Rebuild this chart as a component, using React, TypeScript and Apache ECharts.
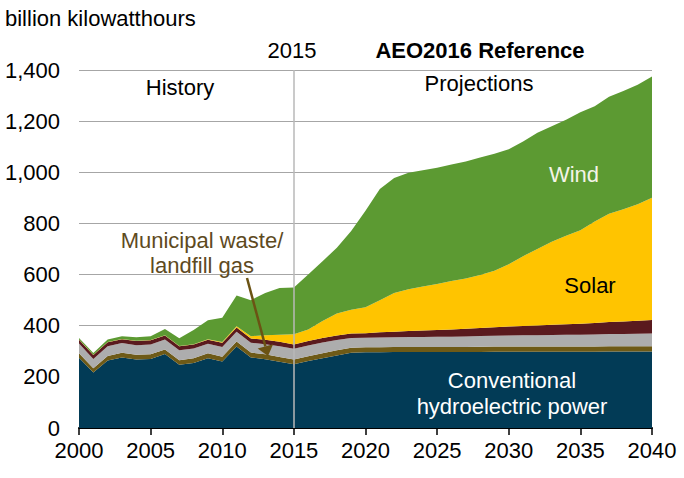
import React, { useEffect, useRef } from "react";
import * as echarts from "echarts";

const years: string[] = [];
for (let y = 2000; y <= 2040; y++) years.push(String(y));

const hydro = [
  275, 217, 264, 276, 268, 270, 289, 247, 254, 273, 260, 319, 276, 269, 259, 249,
  262, 273, 284, 294, 296, 296, 297, 297, 297, 297, 297, 297, 297, 298, 298, 298,
  298, 298, 298, 298, 298, 299, 299, 299, 299,
];
const msw = [
  17, 17, 18, 18, 18, 18, 18, 18, 19, 19, 19, 19, 19, 19, 19, 19,
  19, 19, 20, 20, 20, 20, 20, 20, 20, 20, 20, 20, 21, 21, 21, 21,
  21, 21, 21, 21, 21, 21, 21, 21, 21,
];
const wood = [
  38, 36, 38, 38, 38, 39, 39, 39, 38, 37, 38, 38, 38, 40, 42, 42,
  42, 42, 40, 38, 37, 38, 38, 39, 39, 40, 40, 41, 42, 42, 43, 44,
  44, 45, 46, 46, 47, 48, 48, 49, 50,
];
const geothermal = [
  15, 15, 15, 15, 16, 16, 16, 16, 16, 16, 16, 17, 17, 17, 17, 17,
  17, 18, 18, 18, 18, 20, 21, 23, 25, 26, 28, 30, 31, 33, 35, 36,
  38, 40, 41, 43, 45, 47, 48, 50, 52,
];
const solar = [
  1, 1, 1, 1, 1, 1, 1, 1, 1, 2, 3, 5, 9, 18, 28, 40,
  45, 66, 86, 92, 101, 126, 152, 164, 172, 180, 190, 197, 207, 221, 243, 273,
  299, 324, 346, 365, 397, 423, 439, 456, 478,
];
const wind = [
  6, 7, 10, 11, 14, 15, 24, 30, 55, 74, 95, 120, 141, 165, 182, 182,
  215, 234, 257, 308, 378, 435, 450, 455, 455, 455, 455, 457, 460, 457, 450, 448,
  455, 452, 453, 462, 450, 457, 463, 467, 475,
];

const FONT = "'Liberation Sans', Arial, sans-serif";
const FS = 22;

export default function App() {
  const ref = useRef<HTMLDivElement>(null);
  useEffect(() => {
    document.body.style.margin = "0";
    if (!ref.current) return;
    const chart = echarts.init(ref.current, undefined, { renderer: "svg" });
    const layer = (name: string, data: number[], color: string, extra: any = {}) => ({
      name,
      type: "line",
      stack: "total",
      data,
      symbol: "none",
      lineStyle: { width: 0 },
      areaStyle: { color, opacity: 1 },
      itemStyle: { color },
      silent: true,
      ...extra,
    });
    const txt = (text: string, x: number, y: number, fill: string, bold = false) => ({
      type: "text",
      x,
      y,
      style: {
        text,
        fill,
        font: `${bold ? "bold " : ""}${FS}px ${FONT}`,
        textAlign: "center",
        textVerticalAlign: "middle",
      },
      z: 100,
    });
    chart.setOption({
      animation: false,
      grid: { left: 79, right: 32, top: 70, bottom: 50, containLabel: false },
      xAxis: {
        type: "category",
        data: years,
        boundaryGap: false,
        axisLine: { lineStyle: { color: "#000", width: 2 } },
        axisTick: { interval: 4, length: 7, lineStyle: { color: "#000", width: 1.5 } },
        axisLabel: { interval: 4, color: "#000", fontSize: FS, fontFamily: FONT, margin: 11 },
        splitLine: { show: false },
      },
      yAxis: {
        type: "value",
        min: 0,
        max: 1400,
        interval: 200,
        axisLine: { show: false },
        axisTick: { show: false },
        axisLabel: {
          color: "#000",
          fontSize: FS,
          fontFamily: FONT,
          margin: 19,
          formatter: (v: number) => v.toLocaleString("en-US"),
        },
        splitLine: { lineStyle: { color: "#a6a6a6", width: 1 } },
      },
      series: [
        layer("Conventional hydroelectric power", hydro, "#023B56"),
        layer("Municipal waste/landfill gas", msw, "#6E5A17"),
        layer("Wood and other biomass", wood, "#ADADAD"),
        layer("Geothermal", geothermal, "#5A1A1E"),
        layer("Solar", solar, "#FFC400"),
        layer("Wind", wind, "#5C9A32", {
          markLine: {
            silent: true,
            symbol: "none",
            label: { show: false },
            lineStyle: { color: "#b8b8b8", width: 1.5, type: "solid" },
            data: [{ xAxis: "2015" }],
          },
        }),
      ],
      graphic: [
        {
          type: "text",
          x: 5,
          y: 18,
          style: {
            text: "billion kilowatthours",
            fill: "#000",
            font: `${FS}px ${FONT}`,
            textAlign: "left",
            textVerticalAlign: "middle",
          },
        },
        txt("2015", 292, 50, "#000"),
        txt("AEO2016 Reference", 480, 50, "#000", true),
        txt("History", 180, 87, "#000"),
        txt("Projections", 479, 83, "#000"),
        txt("Wind", 574, 174, "#F4F4E8"),
        txt("Solar", 590, 285, "#000"),
        txt("Conventional", 512, 380, "#FFFFFF"),
        txt("hydroelectric power", 512, 406, "#FFFFFF"),
        txt("Municipal waste/", 202, 240, "#5E4A1E"),
        txt("landfill gas", 202, 265, "#5E4A1E"),
        {
          type: "line",
          shape: { x1: 247, y1: 278, x2: 265.4, y2: 346.3 },
          style: { stroke: "#6B5314", lineWidth: 2.5 },
          z: 100,
        },
        {
          type: "polygon",
          shape: { points: [[268, 356], [273.1, 344.2], [257.7, 348.4]] },
          style: { fill: "#6B5314" },
          z: 100,
        },
      ],
    });
    return () => chart.dispose();
  }, []);
  return <div ref={ref} style={{ width: 684, height: 478 }} />;
}
